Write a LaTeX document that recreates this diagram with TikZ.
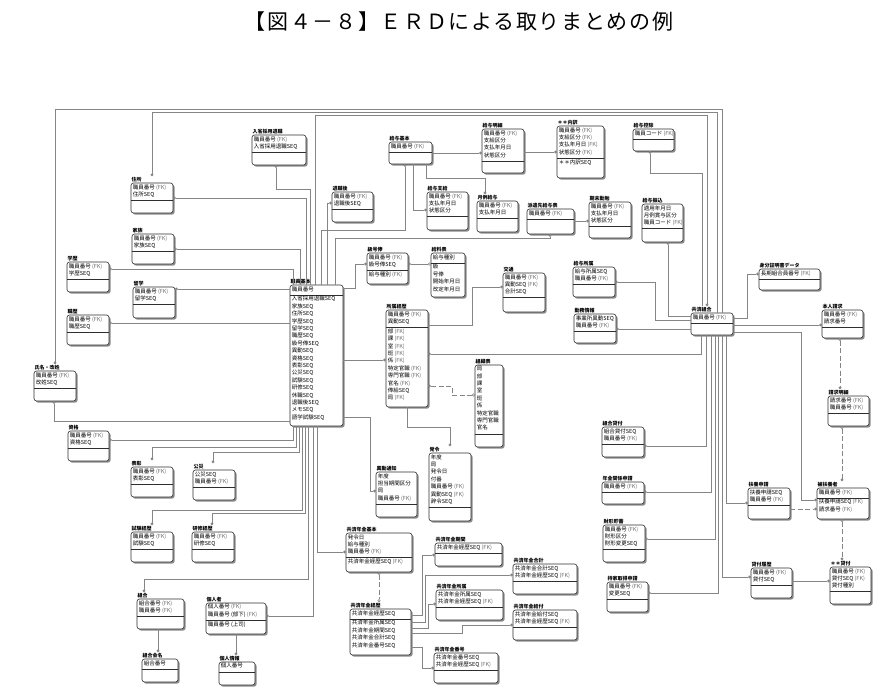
\documentclass[tikz,border=0pt]{standalone}
\usepackage{fontspec}
\setmainfont{Noto Sans CJK JP}
\newfontfamily\titlefont{Noto Sans CJK JP}[LetterSpace=8]
\usetikzlibrary{arrows.meta,shadows}
\definecolor{linec}{gray}{0.52}
\definecolor{boxc}{gray}{0.18}
\definecolor{shadc}{gray}{0.55}
\definecolor{fkc}{gray}{0.42}
\newcommand\fk{{\color{fkc}(FK)}}
\tikzset{
  ebox/.style={anchor=north west, draw=boxc, line width=0.6pt, fill=white,
    rounded corners=2.5pt, inner sep=0pt, outer sep=0pt,
    drop shadow={shadow xshift=1.6pt, shadow yshift=-1.6pt, fill=shadc, opacity=1}},
  ediv/.style={draw=boxc, line width=0.5pt},
  etitle/.style={anchor=south west, inner xsep=0.3pt, inner ysep=0.8pt,
    font=\bfseries\fontsize{5}{6}\selectfont},
  etext/.style={anchor=north west, align=left, inner xsep=1.6pt, inner ysep=1.2pt,
    font=\fontsize{5.5}{7.4}\selectfont},
  rel/.style={draw=linec, line width=0.55pt},
  dashrel/.style={rel, dash pattern=on 5pt off 2.5pt},
  tdot/.style={arrows={-{Circle[length=2.8pt,width=2.8pt]}}},
  odot/.style={arrows={{Circle[open,length=3pt,width=3pt]}-{Circle[length=2.8pt,width=2.8pt]}}},
  dopen/.style={arrows={{Circle[length=2.8pt,width=2.8pt]}-{Circle[open,length=3pt,width=3pt]}}}
}
% #1 name, #2 x1, #3 y1, #4 x2, #5 y2, #6 number of key rows, #7 title, #8 key rows, #9 other rows
\newcommand{\ent}[9]{%
  \pgfmathsetmacro\entw{#4-#2}%
  \pgfmathsetmacro\enth{#5-#3}%
  \pgfmathsetmacro\entdiv{#3+2.5+7.4*#6}%
  \node[ebox, minimum width=\entw pt, minimum height=\enth pt] (#1) at (#2,#3) {};
  \draw[ediv] (#2,\entdiv) -- (#4,\entdiv);
  \node[etitle] (#1T) at (#2,#3) {#7};
  \node[etext] (#1K) at (#2,#3) {#8};
  \node[etext] (#1N) at (#2,\entdiv) {#9};
}
\begin{document}
\begin{tikzpicture}[x=1pt,y=-1pt]
\useasboundingbox (0,0) rectangle (886,698);
\fill[white] (0,0) rectangle (886,698);
\node[font=\titlefont\fontsize{21}{24}\selectfont, inner sep=0pt] (title) at (459,22)
  {【図４－８】ＥＲＤによる取りまとめの例};

% ---------------- entities ----------------
\ent{jinji}{252}{135}{306}{165}{2}{入省採用退職}{職員番号 \fk\\入省採用退職SEQ}{}
\ent{jusho}{131}{183}{173}{213}{2}{住所}{職員番号 \fk\\住所SEQ}{}
\ent{kazoku}{132}{234}{174}{264}{2}{家族}{職員番号 \fk\\家族SEQ}{}
\ent{gakureki}{67}{262}{109}{292}{2}{学歴}{職員番号 \fk\\学歴SEQ}{}
\ent{ryugaku}{133}{287}{175}{318}{2}{留学}{職員番号 \fk\\留学SEQ}{}
\ent{shokureki}{67}{315}{109}{345}{2}{職歴}{職員番号 \fk\\職歴SEQ}{}
\ent{kaisei}{34}{371}{76}{401}{2}{氏名・改姓}{職員番号 \fk\\改姓SEQ}{}
\ent{shikaku}{68}{431}{109}{461}{2}{資格}{職員番号 \fk\\資格SEQ}{}
\ent{hyosho}{131}{467}{173}{497}{2}{表彰}{職員番号 \fk\\表彰SEQ}{}
\ent{kousai}{193}{470}{235}{500}{2}{公災}{公災SEQ\\職員番号 \fk}{}
\ent{shiken}{131}{532}{173}{562}{2}{試験経歴}{職員番号 \fk\\試験SEQ}{}
\ent{kenshu}{192}{532}{234}{562}{2}{研修経歴}{職員番号 \fk\\研修SEQ}{}
\ent{kumiai}{137}{599}{184}{629}{2}{組合}{組合番号 \fk\\職員番号 \fk}{}
\ent{kumiaimei}{142}{659}{178}{682}{1}{組合会名}{組合番号}{}
\ent{kojin}{206}{603}{266}{634}{2}{個人者}{個人番号 \fk\\職員番号 (部下) \fk}{職員番号 (上司)}
\ent{kojinjoho}{219}{662}{255}{685}{1}{個人情報}{個人番号}{}
\ent{main}{290}{285}{343}{426}{1}{職員基本}{職員番号}{入省採用退職SEQ\\家族SEQ\\住所SEQ\\学歴SEQ\\留学SEQ\\職歴SEQ\\級号俸SEQ\\異動SEQ\\資格SEQ\\表彰SEQ\\公災SEQ\\試験SEQ\\研修SEQ\\休職SEQ\\退職後SEQ\\メモSEQ\\語学試験SEQ}
\ent{kinmusaki}{332}{192}{373}{222}{2}{退職後}{職員番号 \fk\\退職後SEQ}{}
\ent{kyuyokihon}{389}{142}{432}{164}{1}{給与基本}{職員番号 \fk}{}
\ent{kyuyomeisai}{482}{129}{524}{173}{4}{給与明細}{職員番号 \fk\\支給区分\\支払年月日\\状態区分}{}
\ent{uchiwake}{557}{126}{604}{178}{4}{＊＊内訳}{職員番号 \fk\\支給区分 \fk\\支払年月日 \fk\\状態区分 \fk}{＊＊内訳SEQ}
\ent{kyuyoshikyu}{427}{192}{468}{230}{3}{給与支給}{職員番号 \fk\\支払年月日\\状態区分}{}
\ent{getsurei}{477}{201}{518}{232}{2}{月例給与}{職員番号 \fk\\支払年月日}{}
\ent{haken}{527}{209}{574}{234}{1}{派遣先給与表}{職員番号 \fk}{}
\ent{kimatsu}{589}{202}{631}{238}{3}{期末勤勉}{職員番号 \fk\\支払年月日\\状態区分}{}
\ent{kojo}{633}{129}{674}{151}{1}{給与控除}{職員コード \fk}{}
\ent{furikomi}{642}{204}{683}{242}{3}{給与振込}{適用年月日\\月例賞与区分\\職員コード \fk}{}
\ent{shozokuk}{573}{267}{615}{297}{2}{給与所属}{給与所属SEQ\\職員番号 \fk}{}
\ent{kinmu}{574}{314}{616}{343}{2}{勤務情報}{事業所異動SEQ\\職員番号 \fk}{}
\ent{hub}{691}{313}{733}{335}{1}{共済組合}{職員番号 \fk}{}
\ent{mibun}{759}{269}{820}{290}{1}{身分証明書データ}{長期組合員番号 \fk}{}
\ent{honnin}{822}{310}{863}{338}{2}{本人請求}{職員番号 \fk\\請求番号}{}
\ent{seikyu}{828}{396}{869}{426}{2}{請求明細}{請求番号 \fk\\職員番号 \fk}{}
\ent{fuyosha}{817}{488}{869}{519}{1}{被扶養者}{職員番号 \fk}{扶養申請SEQ \fk\\請求番号 \fk}
\ent{fuyoshinsei}{748}{488}{790}{519}{2}{扶養申請}{扶養申請SEQ\\職員番号 \fk}{}
\ent{kashitsuke}{602}{427}{644}{457}{2}{組合貸付}{組合貸付SEQ\\職員番号 \fk}{}
\ent{nenkin}{602}{482}{644}{504}{1}{年金関係申請}{職員番号 \fk}{}
\ent{zaikei}{603}{525}{645}{562}{3}{財形貯蓄}{職員番号 \fk\\財形区分\\財形変更SEQ}{}
\ent{mochiie}{607}{582}{648}{612}{2}{持家取得申請}{職員番号 \fk\\変更SEQ}{}
\ent{kashirireki}{751}{568}{792}{598}{2}{貸付履歴}{職員番号 \fk\\貸付SEQ}{}
\ent{kashimeisai}{830}{567}{871}{604}{3}{＊＊貸付}{職員番号 \fk\\貸付SEQ \fk\\貸付種別}{}
\ent{shozoku}{386}{310}{428}{407}{2}{所属経歴}{職員番号 \fk\\異動SEQ}{部 \fk\\課 \fk\\室 \fk\\班 \fk\\係 \fk\\特定官職 \fk\\専門官職 \fk\\官名 \fk\\俸給SEQ\\局 \fk}
\ent{shoshin}{367}{253}{408}{284}{2}{級号俸}{職員番号 \fk\\級号俸SEQ}{給与種別 \fk}
\ent{kyuryohyo}{431}{253}{465}{297}{1}{給料表}{給与種別}{級\\号俸\\開始年月日\\改定年月日}
\ent{kotsu}{503}{273}{545}{312}{3}{交通}{職員番号 \fk\\異動SEQ \fk\\合計SEQ}{}
\ent{soshiki}{475}{365}{503}{447}{9}{組織表}{局\\部\\課\\室\\班\\係\\特定官職\\専門官職\\官名}{}
\ent{hokyu}{429}{453}{471}{521}{7}{発令}{年度\\局\\発令日\\付番\\職員番号 \fk\\異動SEQ \fk\\辞令SEQ}{}
\ent{ido}{376}{472}{417}{517}{4}{異動通知}{年度\\担当期間区分\\局\\職員番号 \fk}{}
\ent{kyosaikihon}{346}{533}{412}{572}{3}{共済年金基本}{発令日\\給与種別\\職員番号 \fk}{共済年金経歴SEQ \fk}
\ent{kyosaikeireki}{350}{609}{411}{655}{1}{共済年金経歴}{共済年金経歴SEQ}{共済年金所属SEQ\\共済年金期間SEQ\\共済年金合計SEQ\\共済年金番号SEQ}
\ent{aa}{435}{543}{502}{566}{1}{共済年金期間}{共済年金経歴SEQ \fk}{}
\ent{ab}{513}{564}{577}{594}{2}{共済年金合計}{共済年金合計SEQ\\共済年金経歴SEQ \fk}{}
\ent{ac}{436}{590}{503}{620}{2}{共済年金所属}{共済年金所属SEQ\\共済年金経歴SEQ \fk}{}
\ent{ad}{513}{610}{577}{640}{2}{共済年金給付}{共済年金給付SEQ\\共済年金経歴SEQ \fk}{}
\ent{ae}{434}{653}{498}{683}{2}{共済年金番号}{共済年金番号SEQ\\共済年金経歴SEQ \fk}{}

% ---------------- connectors ----------------
% main top
\draw[rel,tdot] (main.north -| 293,0) |- (gakureki.east |- 0,269);
\draw[rel,tdot] (main.north -| 300,0) |- (kazoku.east |- 0,249);
\draw[rel,tdot] (main.north -| 306,0) |- (jusho.east |- 0,198);
\draw[rel,tdot] (main.north -| 310,0) |- (276,189) -- (jinji.south -| 276,0);
\draw[rel,tdot] (main.north -| 315,0) |- (707,115) -- (hubT.north -| 707,0);
\draw[rel,tdot] (main.north -| 321,0) |- (405,230) -- (kyuyokihon.south -| 405,0);
\draw[rel,tdot] (main.north -| 327,0) |- (kinmusaki.west |- 0,203);
\draw[rel,tdot] (main.north -| 335,0) |- (550,238) -- (haken.south -| 550,0);
% main left
\draw[rel,tdot] (main.west |- 0,289) -- (ryugaku.east |- 0,289);
\draw[rel,tdot] (main.west |- 0,323) -- (shokureki.east |- 0,323);
\draw[rel,tdot] (main.west |- 0,421) -| (kaisei.south -| 54,0);
% main right
\draw[rel,tdot] (main.east |- 0,288) -| (355,264) -- (shoshin.west |- 0,264);
\draw[rel,tdot] (main.east |- 0,360) -- (shozoku.west |- 0,360);
\draw[rel,tdot] (main.east |- 0,417) -| (370,491) -- (ido.west |- 0,491);
% main bottom
\draw[rel,tdot] (main.south -| 293,0) |- (shikaku.east |- 0,440);
\draw[rel,tdot] (main.south -| 296,0) |- (152,447) -- (hyoshoT.north -| 152,0);
\draw[rel,tdot] (main.south -| 299,0) |- (213,452) -- (kousaiT.north -| 213,0);
\draw[rel,tdot] (main.south -| 302,0) |- (152,510) -- (shikenT.north -| 152,0);
\draw[rel,tdot] (main.south -| 305,0) |- (212,513) -- (kenshuT.north -| 212,0);
\draw[rel,tdot] (main.south -| 308,0) |- (144,579) -- (kumiaiT.north -| 144,0);
\draw[rel,tdot] (main.south -| 313,0) |- (kojin.east |- 0,616);
\draw[rel,tdot] (main.south -| 317,0) |- (kyosaikihon.west |- 0,552);
\draw[rel,tdot] (kumiai.south -| 158,0) -- (kumiaimeiT.north -| 158,0);
\draw[rel,tdot] (kojin.south -| 236,0) -- (kojinjohoT.north -| 236,0);
% hub
\draw[rel,tdot] (hub.north -| 722,0) |- (55,109) -- (kaiseiT.north -| 55,0);
\draw[rel,tdot] (hub.north -| 717,0) |- (152,112) -- (jushoT.north -| 152,0);
\draw[rel,tdot] (hubT.north -| 702,0) |- (650,173) -- (kojo.south -| 650,0);
\draw[rel,tdot] (hub.west |- 0,316) -| (furikomi.south -| 668,0);
\draw[rel,tdot] (hub.west |- 0,320) -| (655,282) -- (shozokuk.east |- 0,282);
\draw[rel,tdot] (hub.west |- 0,329) -- (kinmu.east |- 0,329);
\draw[rel,tdot] (hub.east |- 0,318) -| (747,274) -- (mibun.west |- 0,274);
\draw[rel,tdot] (hub.east |- 0,325) -- (honnin.west |- 0,325);
\draw[rel,tdot] (hub.east |- 0,332) -| (801,500) -- (fuyosha.west |- 0,500);
\draw[rel,tdot] (hub.south -| 701,0) |- (shozoku.east |- 0,354);
\draw[rel,tdot] (hub.south -| 706,0) |- (kashitsuke.east |- 0,446);
\draw[rel,tdot] (hub.south -| 711,0) |- (nenkin.east |- 0,492);
\draw[rel,tdot] (hub.south -| 715,0) |- (zaikei.east |- 0,539);
\draw[rel,tdot] (hub.south -| 718,0) |- (mochiie.east |- 0,593);
\draw[rel,tdot] (hub.south -| 722,0) |- (kashirireki.west |- 0,577);
\draw[rel,tdot] (hub.south -| 726,0) |- (fuyoshinsei.west |- 0,503);
% pay group
\draw[rel,tdot] (kyuyokihon.east |- 0,153) -- (kyuyomeisai.west |- 0,153);
\draw[rel,tdot] (kyuyomeisai.east |- 0,152) -- (uchiwake.west |- 0,152);
\draw[rel,tdot] (kyuyokihon.south -| 413,0) |- (kyuyoshikyu.west |- 0,210);
\draw[rel,tdot] (kyuyokihon.south -| 426,0) |- (485,178) -- (getsureiT.north -| 485,0);
\draw[rel,tdot] (haken.east |- 0,221) -- (kimatsu.west |- 0,221);
\draw[rel,odot] (kyuryohyo.west |- 0,264) -- (shoshin.east |- 0,264);
% organisation group
\draw[rel,tdot] (shozoku.east |- 0,325) -| (472,287) -- (kotsu.west |- 0,287);
\draw[dashrel,odot] (soshiki.west |- 0,395) -| (452,386) -- (shozoku.east |- 0,386);
\draw[rel,tdot] (shozoku.south -| 407,0) |- (450,427) -- (hokyuT.north -| 450,0);
% pension group
\draw[dashrel,dopen] (kyosaikihon.south -| 379,0) -- (kyosaikeirekiT.north -| 379,0);
\draw[rel,tdot] (kyosaikeireki.east |- 0,615) -| (422,555) -- (aa.west |- 0,555);
\draw[rel,tdot] (kyosaikeireki.east |- 0,622) -| (425,575) -- (ab.west |- 0,575);
\draw[rel,tdot] (kyosaikeireki.east |- 0,628) -| (428,604) -- (ac.west |- 0,604);
\draw[rel,tdot] (kyosaikeireki.east |- 0,633) -| (462,625) -- (ad.west |- 0,625);
\draw[rel,tdot] (kyosaikeireki.east |- 0,647) -| (422,668) -- (ae.west |- 0,668);
% claims group
\draw[dashrel,odot] (honnin.south -| 840,0) -- (seikyuT.north -| 840,0);
\draw[dashrel,odot] (seikyu.south -| 842,0) -- (fuyoshaT.north -| 842,0);
\draw[dashrel,odot] (fuyosha.south -| 842,0) -- (kashimeisaiT.north -| 842,0);
\draw[dashrel,tdot] (fuyoshinsei.east |- 0,509) -- (fuyosha.west |- 0,509);
\draw[rel,tdot] (kashirireki.east |- 0,581) -- (kashimeisai.west |- 0,581);
\end{tikzpicture}
\end{document}
